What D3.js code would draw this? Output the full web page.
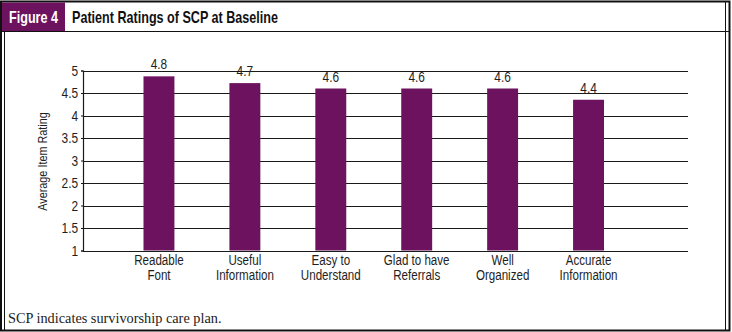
<!DOCTYPE html>
<html>
<head>
<meta charset="utf-8">
<script src="https://cdn.jsdelivr.net/npm/d3@7"></script>
<style>
  body { margin: 0; background: #fff; }
  svg { display: block; }
  .cond { font-family: 'Liberation Sans', Arial, sans-serif; }
</style>
</head>
<body>
<div id="chart"></div>
<script>
const categories = [
  ['Readable', 'Font'],
  ['Useful', 'Information'],
  ['Easy to', 'Understand'],
  ['Glad to have', 'Referrals'],
  ['Well', 'Organized'],
  ['Accurate', 'Information']
]
const ratings = [4.87, 4.72, 4.6, 4.6, 4.6, 4.35]
const ratingLabels = ['4.8', '4.7', '4.6', '4.6', '4.6', '4.4']
const yTicks = [1, 1.5, 2, 2.5, 3, 3.5, 4, 4.5, 5]

const width = 732
const height = 332
const purple = '#6d125e'
// no condensed face installed, so squeeze Arial-like text horizontally
const squeeze = 0.82

const svg = d3
  .select('#chart')
  .append('svg')
  .attr('width', width)
  .attr('height', height)

// frame
svg.append('rect')
  .attr('x', 1).attr('y', 1.5)
  .attr('width', 728.5).attr('height', 329)
  .attr('fill', 'none').attr('stroke', '#111').attr('stroke-width', 2)
svg.append('line')
  .attr('x1', 4.5).attr('x2', 4.5).attr('y1', 31).attr('y2', 330)
  .attr('stroke', '#111').attr('stroke-width', 1)
svg.append('line')
  .attr('x1', 725.5).attr('x2', 725.5).attr('y1', 2).attr('y2', 330)
  .attr('stroke', '#111').attr('stroke-width', 1)
svg.append('line')
  .attr('x1', 2).attr('x2', 730).attr('y1', 31.5).attr('y2', 31.5)
  .attr('stroke', '#111').attr('stroke-width', 1.2)

// header
svg.append('rect')
  .attr('x', 2).attr('y', 2.5)
  .attr('width', 63).attr('height', 28.5)
  .attr('fill', purple)
svg.append('text')
  .attr('class', 'cond')
  .attr('x', 9).attr('y', 22.5)
  .attr('fill', '#fff')
  .attr('font-weight', 'bold')
  .attr('font-size', 16.5)
  .attr('textLength', 49)
  .attr('lengthAdjust', 'spacingAndGlyphs')
  .text('Figure 4')
svg.append('text')
  .attr('class', 'cond')
  .attr('x', 72).attr('y', 22.5)
  .attr('fill', '#111')
  .attr('font-weight', 'bold')
  .attr('font-size', 17)
  .attr('textLength', 206)
  .attr('lengthAdjust', 'spacingAndGlyphs')
  .text('Patient Ratings of SCP at Baseline')

// footnote
svg.append('text')
  .attr('x', 8).attr('y', 323)
  .attr('fill', '#222')
  .attr('font-family', "'Liberation Serif', 'DejaVu Serif', serif")
  .attr('font-size', 14.3)
  .text('SCP indicates survivorship care plan.')

// scales
const plotLeft = 83
const plotRight = 688

const y = d3.scaleLinear()
  .domain([1, 5])
  .range([250.5, 70.5])

const x = d3.scaleBand()
  .domain(categories.map(d => d.join(' ')))
  .range([116, 631.5])
  .paddingInner(0.64)
  .paddingOuter(0.32)

const cx = i => x(categories[i].join(' ')) + x.bandwidth() / 2

// gridlines
svg.append('g')
  .selectAll('line')
  .data(yTicks)
  .enter()
  .append('line')
  .attr('x1', plotLeft)
  .attr('x2', plotRight)
  .attr('y1', d => Math.round(y(d)) + 0.5)
  .attr('y2', d => Math.round(y(d)) + 0.5)
  .attr('stroke', '#1a1a1a')
  .attr('stroke-width', 1.2)

// y axis
const yAxis = svg.append('g')
  .attr('class', 'cond')
  .attr('transform', `translate(${plotLeft},0)`)
  .call(d3.axisLeft(y).tickValues(yTicks).tickSize(2).tickPadding(4).tickFormat(d3.format('')))
yAxis.select('.domain').attr('stroke', '#1a1a1a').attr('stroke-width', 1.2)
yAxis.selectAll('.tick line').attr('stroke', '#1a1a1a')
yAxis.selectAll('text')
  .attr('font-family', null)
  .attr('font-size', 14.5)
  .attr('fill', '#1e1e1e')
  .attr('transform', `scale(${squeeze},1)`)

svg.append('text')
  .attr('class', 'cond')
  .attr('transform', `translate(42,161.5) rotate(-90) scale(${squeeze},1)`)
  .attr('text-anchor', 'middle')
  .attr('dy', '0.35em')
  .attr('font-size', 13.2)
  .attr('fill', '#1e1e1e')
  .text('Average Item Rating')

// bars
svg.append('g')
  .selectAll('rect')
  .data(ratings)
  .enter()
  .append('rect')
  .attr('x', (d, i) => x(categories[i].join(' ')))
  .attr('y', d => y(d))
  .attr('width', x.bandwidth())
  .attr('height', d => y(1) - y(d))
  .attr('fill', purple)

// value labels
svg.append('g')
  .selectAll('text')
  .data(ratings)
  .enter()
  .append('text')
  .attr('class', 'cond')
  .attr('transform', (d, i) => `translate(${cx(i)},${y(d) - 7}) scale(${squeeze},1)`)
  .attr('text-anchor', 'middle')
  .attr('font-size', 14.5)
  .attr('fill', '#1e1e1e')
  .text((d, i) => ratingLabels[i])

// category labels, one text per line
const catLines = []
categories.forEach((c, i) => c.forEach((line, j) => catLines.push({ i, j, line })))

svg.append('g')
  .selectAll('text')
  .data(catLines)
  .enter()
  .append('text')
  .attr('class', 'cond')
  .attr('text-anchor', 'middle')
  .attr('font-size', 13.8)
  .attr('fill', '#1e1e1e')
  .attr('transform', d => `translate(${cx(d.i)},${264.5 + d.j * 15.5}) scale(0.84,1)`)
  .text(d => d.line)
</script>
</body>
</html>
